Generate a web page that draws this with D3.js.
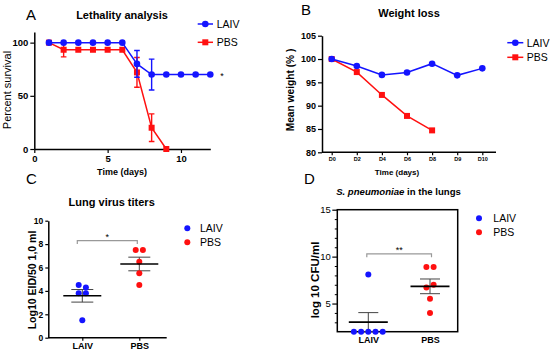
<!DOCTYPE html>
<html>
<head>
<meta charset="utf-8">
<script src="https://cdn.jsdelivr.net/npm/d3@7"></script>
<style>
  body { margin: 0; background: #fff; }
  svg { display: block; font-family: "Liberation Sans", Arial, sans-serif; }
</style>
</head>
<body>
<svg id="chart" width="550" height="353"></svg>
<script>
// ---- panel A : lethality
var survDays = [1, 2, 3, 4, 5, 6, 7, 8, 9, 10, 11, 12];
var laivSurv = [100, 100, 100, 100, 100, 100, 80, 70, 70, 70, 70, 70];
var laivSurvErr = [0, 0, 0, 0, 0, 0, 12.6, 14.5, 0, 0, 0, 0];
var pbsSurvDays = [1, 2, 3, 4, 5, 6, 7, 8, 9];
var pbsSurv = [100, 93.3, 93.3, 93.3, 93.3, 93.3, 72, 20, 0];
var pbsSurvErr = [0, 6.7, 0, 0, 0, 0, 14, 13, 0];
var survTicksX = [0, 5, 10];
var survTicksY = [0, 50, 100];

// ---- panel B : weight
var weightDays = ["D0", "D2", "D4", "D6", "D8", "D9", "D10"];
var laivWeight = [100, 98.5, 96.6, 97.1, 99.0, 96.5, 98.0];
var pbsWeight = [100, 97.2, 92.3, 87.8, 84.7];
var weightTicksY = [80, 85, 90, 95, 100, 105];

// ---- panel C : lung virus titers
var groups = ["LAIV", "PBS"];
var laivTiter = [4.5, 4.3, 3.8, 3.8, 1.5];
var pbsTiter = [7.5, 7.5, 6.5, 5.5, 4.5];
var titerTicksY = [0, 2, 4, 6, 8, 10];

// ---- panel D : S. pneumoniae
var laivCfu = [8.1, 2, 2, 2, 2, 2];
var pbsCfu = [8.9, 8.9, 6.7, 7.0, 5.5, 4.0];
var cfuTicksY = [5, 10, 15];

var BLUE = "#1414ff", RED = "#ff1010";
var svg = d3.select("#chart");

function txt(g, x, y, s, size, opts) {
  opts = opts || {};
  var t = g.append("text").attr("x", x).attr("y", y)
    .attr("font-size", size).attr("text-anchor", opts.anchor || "start")
    .attr("font-weight", opts.bold ? "bold" : "normal")
    .attr("fill", opts.fill || "#000");
  if (opts.rotate) t.attr("transform", "rotate(-90," + x + "," + y + ")");
  t.text(s);
  return t;
}

function styleAxis(g, fs, bold) {
  g.selectAll("path.domain").attr("stroke", "#000").attr("stroke-width", 1.5);
  g.selectAll(".tick line").attr("stroke", "#000").attr("stroke-width", 1.2);
  g.selectAll(".tick text").attr("font-size", fs)
    .attr("font-weight", bold ? "bold" : "normal")
    .attr("font-family", "Liberation Sans, Arial, sans-serif").attr("fill", "#000");
}

// simple beeswarm: near values share a row, rows are centred
function swarm(values, y, step, thr) {
  var idx = values.map(function (v, i) { return i; })
    .sort(function (a, b) { return values[b] - values[a] || a - b; });
  var off = new Array(values.length), rows = [], row = null;
  idx.forEach(function (i) {
    if (row && Math.abs(y(values[i]) - y(values[row[0]])) < thr) row.push(i);
    else { row = [i]; rows.push(row); }
  });
  rows.forEach(function (r) {
    r.sort(function (a, b) { return a - b; });
    r.forEach(function (i, k) { off[i] = (k - (r.length - 1) / 2) * step; });
  });
  return off;
}

function sem(v) { return d3.deviation(v) / Math.sqrt(v.length); }

// ================= A =================
(function () {
  var g = svg.append("g");
  var x = d3.scaleLinear().domain([0, 12]).range([34.3, 210.3]);
  var y = d3.scaleLinear().domain([0, 110]).range([149, 32]);

  txt(g, 26, 20, "A", 15);
  txt(g, 122, 19, "Lethality analysis", 11, { anchor: "middle", bold: true });

  var ax = g.append("g").attr("transform", "translate(0," + y(0) + ")")
    .call(d3.axisBottom(x).tickValues(survTicksX).tickSize(4).tickSizeOuter(0).tickPadding(2));
  styleAxis(ax, 9.5, true);
  var ay = g.append("g").attr("transform", "translate(" + x(0) + ",0)")
    .call(d3.axisLeft(y).tickValues(survTicksY).tickSize(4).tickSizeOuter(0).tickPadding(2));
  styleAxis(ay, 9.5, true);

  txt(g, 122, 175, "Time (days)", 9, { anchor: "middle", bold: true });
  txt(g, 10.5, 90, "Percent survival", 11, { anchor: "middle", rotate: true });

  function series(days, vals, errs, color, square) {
    var pts = days.map(function (d, i) { return { d: d, v: vals[i], e: errs[i] }; });
    g.append("path").datum(pts).attr("fill", "none").attr("stroke", color).attr("stroke-width", 1.5)
      .attr("d", d3.line().x(function (p) { return x(p.d); }).y(function (p) { return y(p.v); }));
    pts.filter(function (p) { return p.e > 0; }).forEach(function (p) {
      var cx = x(p.d);
      g.append("path").attr("stroke", color).attr("stroke-width", 1.4).attr("fill", "none")
        .attr("d", "M" + cx + "," + y(p.v - p.e) + "V" + y(p.v + p.e) +
          "M" + (cx - 2.8) + "," + y(p.v + p.e) + "H" + (cx + 2.8) +
          "M" + (cx - 2.8) + "," + y(p.v - p.e) + "H" + (cx + 2.8));
    });
    pts.forEach(function (p) {
      if (square) g.append("rect").attr("x", x(p.d) - 3).attr("y", y(p.v) - 3)
        .attr("width", 6).attr("height", 6).attr("fill", color);
      else g.append("circle").attr("cx", x(p.d)).attr("cy", y(p.v)).attr("r", 3.3).attr("fill", color);
    });
  }
  series(pbsSurvDays, pbsSurv, pbsSurvErr, RED, true);
  series(survDays, laivSurv, laivSurvErr, BLUE, false);

  txt(g, 222, 79, "*", 9, { anchor: "middle" });

  // legend
  [["LAIV", BLUE, false, 24], ["PBS", RED, true, 42.3]].forEach(function (l) {
    g.append("line").attr("x1", 197.7).attr("x2", 213).attr("y1", l[3]).attr("y2", l[3])
      .attr("stroke", l[1]).attr("stroke-width", 1.5);
    if (l[2]) g.append("rect").attr("x", 202.3).attr("y", l[3] - 3).attr("width", 6).attr("height", 6).attr("fill", l[1]);
    else g.append("circle").attr("cx", 205.3).attr("cy", l[3]).attr("r", 3.3).attr("fill", l[1]);
    txt(g, 216.7, l[3] + 4, l[0], 10.5);
  });
})();

// ================= B =================
(function () {
  var g = svg.append("g");
  var x = d3.scalePoint().domain(weightDays).range([331.7, 482.3]);
  var y = d3.scaleLinear().domain([80, 105]).range([152.3, 35.7]);
  var x0 = 322, x1 = 496;

  txt(g, 301, 15, "B", 15);
  txt(g, 409, 16.7, "Weight loss", 11, { anchor: "middle", bold: true });

  var ax = g.append("g").attr("transform", "translate(0," + y(80) + ")")
    .call(d3.axisBottom(x).tickSize(3).tickSizeOuter(0).tickPadding(2));
  styleAxis(ax, 5.5, true);
  ax.select("path.domain").remove();
  g.append("line").attr("x1", x0).attr("x2", x1).attr("y1", y(80)).attr("y2", y(80))
    .attr("stroke", "#000").attr("stroke-width", 1.5);
  var ay = g.append("g").attr("transform", "translate(" + x0 + ",0)")
    .call(d3.axisLeft(y).tickValues(weightTicksY).tickSize(4).tickSizeOuter(0).tickPadding(2));
  styleAxis(ay, 9, true);

  txt(g, 397, 175, "Time (days)", 8, { anchor: "middle", bold: true });
  txt(g, 294, 90, "Mean weight (% )", 10.2, { anchor: "middle", bold: true, rotate: true });

  function series(vals, color, square) {
    var pts = vals.map(function (v, i) { return { d: weightDays[i], v: v }; });
    g.append("path").datum(pts).attr("fill", "none").attr("stroke", color).attr("stroke-width", 1.5)
      .attr("d", d3.line().x(function (p) { return x(p.d); }).y(function (p) { return y(p.v); }));
    pts.forEach(function (p) {
      if (square) g.append("rect").attr("x", x(p.d) - 3).attr("y", y(p.v) - 3)
        .attr("width", 6).attr("height", 6).attr("fill", color);
      else g.append("circle").attr("cx", x(p.d)).attr("cy", y(p.v)).attr("r", 3.3).attr("fill", color);
    });
  }
  series(pbsWeight, RED, true);
  series(laivWeight, BLUE, false);

  [["LAIV", BLUE, false, 42.7], ["PBS", RED, true, 57.3]].forEach(function (l) {
    g.append("line").attr("x1", 507.3).attr("x2", 523.3).attr("y1", l[3]).attr("y2", l[3])
      .attr("stroke", l[1]).attr("stroke-width", 1.5);
    if (l[2]) g.append("rect").attr("x", 512.3).attr("y", l[3] - 3).attr("width", 6).attr("height", 6).attr("fill", l[1]);
    else g.append("circle").attr("cx", 515.3).attr("cy", l[3]).attr("r", 3.3).attr("fill", l[1]);
    txt(g, 526.7, l[3] + 4, l[0], 10.5);
  });
})();

// scatter-with-mean helper for C and D
function dotGroup(g, x, y, name, vals, color, meanHalf, capHalf, lowClip) {
  var off = swarm(vals, y, 7.2, 5);
  var m = d3.mean(vals), s = sem(vals), cx = x(name);
  var lo = Math.max(m - s, lowClip);
  g.append("path").attr("stroke", "#444").attr("stroke-width", 1).attr("fill", "none")
    .attr("d", "M" + cx + "," + y(lo) + "V" + y(m + s) +
      "M" + (cx - capHalf) + "," + y(m + s) + "H" + (cx + capHalf) +
      "M" + (cx - capHalf) + "," + y(lo) + "H" + (cx + capHalf));
  vals.forEach(function (v, i) {
    g.append("circle").attr("cx", cx + off[i]).attr("cy", y(v)).attr("r", 3).attr("fill", color);
  });
  g.append("line").attr("x1", cx - meanHalf).attr("x2", cx + meanHalf)
    .attr("y1", y(m)).attr("y2", y(m)).attr("stroke", "#000").attr("stroke-width", 1.6);
}

function dotLegend(g, cx, tx, y0, dy) {
  [["LAIV", BLUE], ["PBS", RED]].forEach(function (l, i) {
    g.append("circle").attr("cx", cx).attr("cy", y0 + i * dy).attr("r", 3).attr("fill", l[1]);
    txt(g, tx, y0 + i * dy + 4, l[0], 10.5);
  });
}

// ================= C =================
(function () {
  var g = svg.append("g");
  var x = d3.scalePoint().domain(groups).range([82.3, 139.3]);
  var y = d3.scaleLinear().domain([0, 10]).range([337.7, 220.7]);

  txt(g, 26, 184, "C", 15);
  txt(g, 111.7, 205.7, "Lung virus titers", 11, { anchor: "middle", bold: true });

  var ax = g.append("g").attr("transform", "translate(0," + y(0) + ")")
    .call(d3.axisBottom(x).tickSize(3).tickSizeOuter(0).tickPadding(2));
  styleAxis(ax, 9, true);
  ax.select("path.domain").remove();
  g.append("line").attr("x1", 48.3).attr("x2", 166.7).attr("y1", y(0)).attr("y2", y(0))
    .attr("stroke", "#000").attr("stroke-width", 1.5);
  var ay = g.append("g").attr("transform", "translate(48.3,0)")
    .call(d3.axisLeft(y).tickValues(titerTicksY).tickSize(3).tickSizeOuter(0).tickPadding(2));
  styleAxis(ay, 8.5, true);

  txt(g, 36, 280, "Log10 EID/50 1,0 ml", 10.5, { anchor: "middle", bold: true, rotate: true });

  dotGroup(g, x, y, "LAIV", laivTiter, BLUE, 19, 11, 0);
  dotGroup(g, x, y, "PBS", pbsTiter, RED, 19, 11, 0);

  // significance bracket
  var by = y(8.3), bx1 = x("LAIV") - 5, bx2 = x("PBS") - 2;
  g.append("path").attr("fill", "none").attr("stroke", "#999").attr("stroke-width", 1.2)
    .attr("d", "M" + bx1 + "," + (by + 3.5) + "V" + by + "H" + bx2 + "V" + (by + 3.5));
  txt(g, (bx1 + bx2) / 2, by - 0.5, "*", 9, { anchor: "middle" });

  dotLegend(g, 187.3, 200, 228.3, 14);
})();

// ================= D =================
(function () {
  var g = svg.append("g");
  var x = d3.scalePoint().domain(groups).range([368.3, 430]);
  var y = d3.scaleLinear().domain([2, 15]).range([331.7, 209.7]);
  var x0 = 337.3, x1 = 457.7;

  txt(g, 304, 184, "D", 15);
  var t = txt(g, 398.5, 195, "", 9.6, { anchor: "middle", bold: true });
  t.append("tspan").attr("font-style", "italic").text("S. pneumoniae");
  t.append("tspan").text(" in the lungs");

  // frame
  g.append("rect").attr("x", x0).attr("y", y(15)).attr("width", x1 - x0).attr("height", y(2) - y(15))
    .attr("fill", "none").attr("stroke", "#000").attr("stroke-width", 1.5);

  var ax = g.append("g").attr("transform", "translate(0," + y(2) + ")")
    .call(d3.axisBottom(x).tickSize(0).tickSizeOuter(0).tickPadding(5));
  styleAxis(ax, 9, true);
  ax.select("path.domain").remove();
  var ay = g.append("g").attr("transform", "translate(" + x0 + ",0)")
    .call(d3.axisLeft(y).tickValues(cfuTicksY).tickSize(5).tickSizeOuter(0).tickPadding(1.5));
  styleAxis(ay, 9.5, false);
  ay.select("path.domain").remove();
  var minor = g.append("g").attr("transform", "translate(" + x0 + ",0)")
    .call(d3.axisLeft(y).tickValues(d3.range(3, 15).filter(function (v) { return v % 5; }))
      .tickSize(2.5).tickFormat(""));
  minor.select("path.domain").remove();
  minor.selectAll(".tick line").attr("stroke", "#000").attr("stroke-width", 1);

  txt(g, 318.5, 280, "log 10 CFU/ml", 11.5, { anchor: "middle", bold: true, rotate: true });

  dotGroup(g, x, y, "LAIV", laivCfu, BLUE, 19.5, 10, 2);
  dotGroup(g, x, y, "PBS", pbsCfu, RED, 19.5, 10, 2);

  var by = y(10.3), bx1 = x("LAIV") - 1.5, bx2 = x("PBS") + 1.5;
  g.append("path").attr("fill", "none").attr("stroke", "#999").attr("stroke-width", 1.2)
    .attr("d", "M" + bx1 + "," + (by + 3.5) + "V" + by + "H" + bx2 + "V" + (by + 3.5));
  txt(g, (bx1 + bx2) / 2, by - 1, "**", 9, { anchor: "middle" });

  dotLegend(g, 479, 493.3, 218.3, 14);
})();
</script>
</body>
</html>
